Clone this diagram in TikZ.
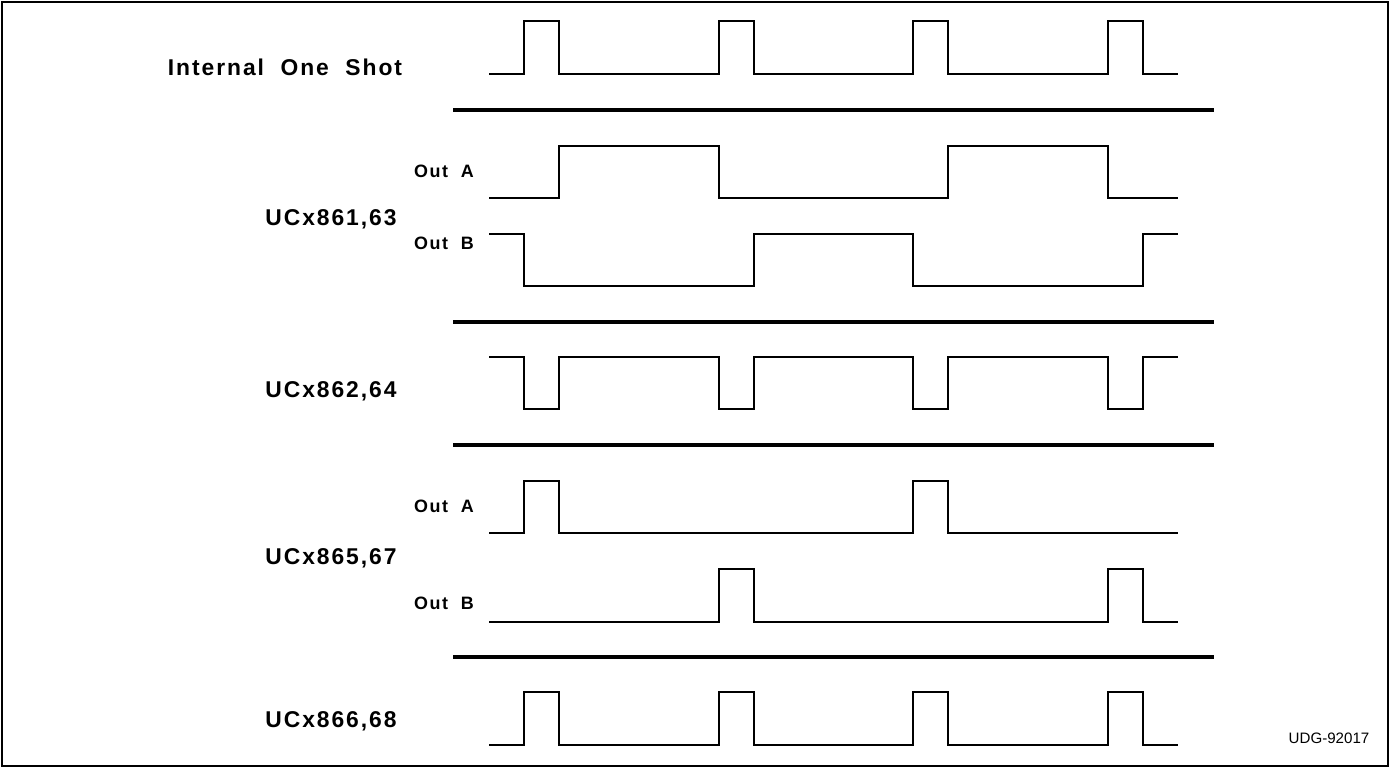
\documentclass[tikz,border=0pt]{standalone}
\usepackage{fontspec}
\usepackage{tikz}
\usetikzlibrary{positioning}
\newfontfamily\lblfont[LetterSpace=8.5,WordSpace=2]{Liberation Sans}
\newfontfamily\tagfont{Liberation Sans}

\begin{document}
\begin{tikzpicture}
        [x = 0.02cm, y = -0.02cm, inner sep = 0pt, line join = miter,
        wave/.style = {line width = 1.05pt},
        divider/.style = {line width = 2pt},
        frame/.style = {line width = 1.4pt},
        title/.style = {font = {\lblfont\bfseries\fontsize{13}{15}\selectfont}, text height = 9.3pt, text depth = 0pt},
        sub/.style = {font = {\lblfont\bfseries\fontsize{10.2}{12}\selectfont}, text height = 7.3pt, text depth = 0pt},
        tag/.style = {font = {\tagfont\fontsize{8.6}{10}\selectfont}, text height = 6.2pt, text depth = 0pt}]

        \useasboundingbox (0,0) rectangle (1391,768);
        \draw[frame] (2,2) rectangle (1388,766);

        %% place labels on canvas
        \node[title] (oneshot) at (285,67)  {Internal One Shot};
        \node[sub]   (outa1)   at (444,171) {Out A};
        \node[title] (uc861)   at (331,217) {UCx861,63};
        \node[sub]   (outb1)   at (444,243) {Out B};
        \node[title] (uc862)   at (331,389) {UCx862,64};
        \node[sub]   (outa2)   at (444,506) {Out A};
        \node[title] (uc865)   at (331,556) {UCx865,67};
        \node[sub]   (outb2)   at (444,603) {Out B};
        \node[title] (uc866)   at (331,719) {UCx866,68};
        \node[tag]   (udg)     at (1329,738) {UDG-92017};

        %% dividers between groups
        \foreach \y in {110,322,445,657}
            \draw[divider] (453,\y) -- (1214,\y);

        %% waveforms
        \draw[wave] (489,74) foreach \t in {524,719,913,1108}
            { -- (\t,74) -- (\t,21) -- (\t+35,21) -- (\t+35,74) } -- (1178,74);
        \draw[wave] (489,198) -- (559,198) -- (559,146) -- (719,146) -- (719,198)
            -- (948,198) -- (948,146) -- (1108,146) -- (1108,198) -- (1178,198);
        \draw[wave] (489,234) -- (524,234) -- (524,286) -- (754,286) -- (754,234)
            -- (913,234) -- (913,286) -- (1143,286) -- (1143,234) -- (1178,234);
        \draw[wave] (489,357) foreach \t in {524,719,913,1108}
            { -- (\t,357) -- (\t,409) -- (\t+35,409) -- (\t+35,357) } -- (1178,357);
        \draw[wave] (489,533) -- (524,533) -- (524,481) -- (559,481) -- (559,533)
            -- (913,533) -- (913,481) -- (948,481) -- (948,533) -- (1178,533);
        \draw[wave] (489,622) -- (719,622) -- (719,569) -- (754,569) -- (754,622)
            -- (1108,622) -- (1108,569) -- (1143,569) -- (1143,622) -- (1178,622);
        \draw[wave] (489,745) foreach \t in {524,719,913,1108}
            { -- (\t,745) -- (\t,692) -- (\t+35,692) -- (\t+35,745) } -- (1178,745);
    \end{tikzpicture}
\end{document}
